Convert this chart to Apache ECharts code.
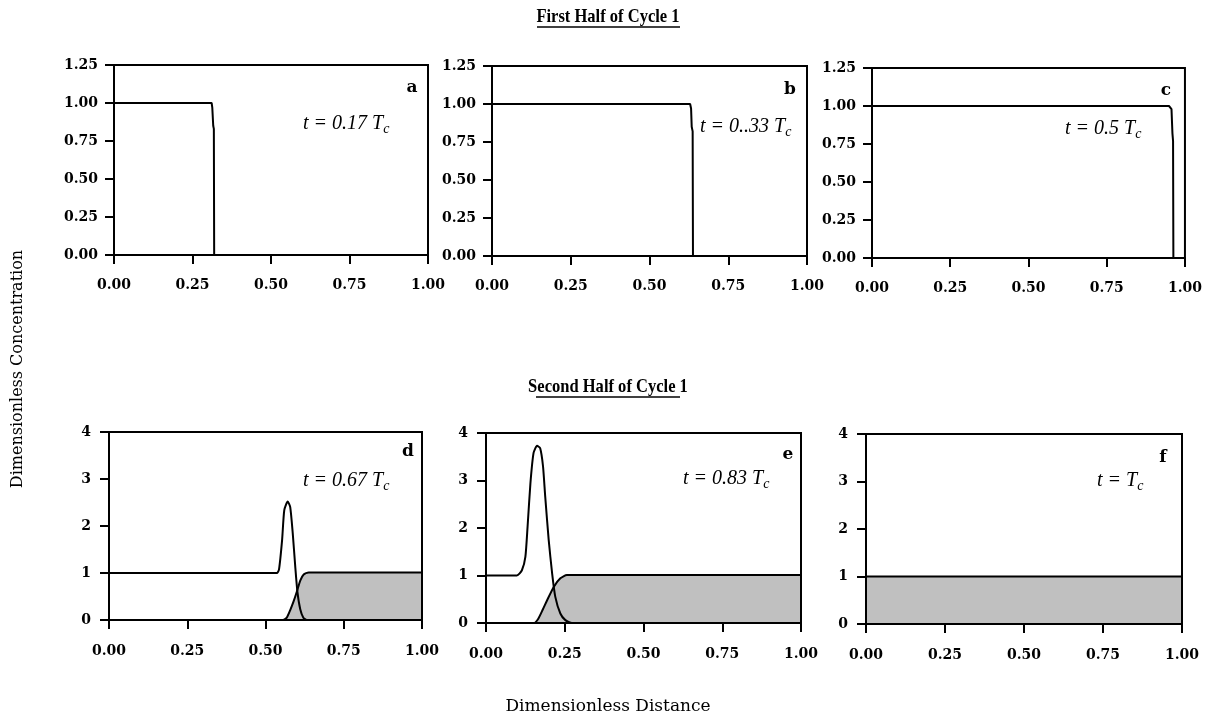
<!DOCTYPE html>
<html><head><meta charset="utf-8">
<script src="https://cdn.jsdelivr.net/npm/echarts@6/dist/echarts.min.js"></script>
<style>html,body{margin:0;padding:0;background:#fff}#c{width:1205px;height:719px}</style>
</head><body><div id="c"></div>
<script>
// ---- data (dimensionless distance, dimensionless concentration) ----
const panelA = [[0,1],[0.311,1],[0.313,0.97],[0.316,0.85],[0.318,0.83],[0.319,0],[1,0]];
const panelB = [[0,1],[0.629,1],[0.632,0.97],[0.634,0.85],[0.637,0.82],[0.638,0],[1,0]];
const panelC = [[0,1],[0.949,1],[0.957,0.98],[0.960,0.82],[0.962,0.77],[0.963,0],[1,0]];

const panelDFeed = [[0,1],[0.536,1],[0.543,1.07],[0.553,1.7],[0.560,2.34],[0.571,2.52],[0.579,2.4],[0.587,1.85],[0.595,1.14],[0.602,0.6],[0.611,0.23],[0.621,0.05],[0.632,0],[1,0]];
const panelDProd = [[0,0],[0.556,0],[0.568,0.05],[0.579,0.21],[0.590,0.40],[0.600,0.60],[0.611,0.84],[0.622,0.97],[0.638,1.01],[1,1.01]];

const panelEFeed = [[0,1],[0.098,1],[0.114,1.11],[0.125,1.39],[0.132,2.03],[0.141,2.94],[0.151,3.58],[0.162,3.73],[0.172,3.68],[0.181,3.30],[0.188,2.66],[0.199,1.75],[0.210,1.04],[0.220,0.55],[0.236,0.20],[0.252,0.06],[0.273,0],[1,0]];
const panelEProd = [[0,0],[0.152,0],[0.165,0.08],[0.180,0.28],[0.194,0.48],[0.215,0.76],[0.236,0.94],[0.257,1.01],[1,1.01]];

const panelFFeed = [[0,0],[1,0]];
const panelFProd = [[0,1],[1,1]];

const panelLetters = ['a','b','c','d','e','f'];
const panelTimes = ['0.17 ','0..33 ','0.5 ','0.67 ','0.83 ',''];
const topYMax = 1.25, topYStep = 0.25;
const botYMax = 4, botYStep = 1;

// ---- layout ----
const grids = [
  {left:114, top:65, width:314, height:190},
  {left:492, top:66, width:315, height:190},
  {left:872, top:68, width:314, height:190},
  {left:109, top:432, width:313, height:188},
  {left:486, top:433, width:315, height:190},
  {left:866, top:434, width:316, height:190}
];
const letterPos = [[412,88],[790,90],[1166,91],[408,452],[788,455],[1163,458]];
const timePos = [[303,125],[700,128],[1065,130],[303,482],[683,480],[1097,482]];

const lbl = {color:'#000', fontFamily:'DejaVu Serif', fontWeight:'bold', fontSize:14};
const xAxes = [], yAxes = [];
grids.forEach((g,i)=>{
  const top = i < 3;
  xAxes.push({type:'value', gridIndex:i, min:0, max:1, interval:0.25, z:10,
    axisLine:{show:true, onZero:false, lineStyle:{color:'#000', width:2}},
    axisTick:{show:true, length:9, lineStyle:{color:'#000', width:2}},
    axisLabel:Object.assign({margin:top?23:24, formatter:v=>v.toFixed(2)}, lbl),
    splitLine:{show:false}});
  yAxes.push({type:'value', gridIndex:i, min:0, max: top?topYMax:botYMax, interval: top?topYStep:botYStep, z:10,
    axisLine:{show:true, onZero:false, lineStyle:{color:'#000', width:2}},
    axisTick:{show:true, length:9, lineStyle:{color:'#000', width:2}},
    axisLabel:Object.assign({margin:top?16:18, formatter:v=> top? v.toFixed(2) : String(v)}, lbl),
    splitLine:{show:false}});
});

const lineStyle = {color:'#000', width:2};
const base = {type:'line', showSymbol:false, symbol:'none', animation:false, lineStyle};
const series = [];
[panelA, panelB, panelC].forEach((d,i)=>{
  series.push(Object.assign({xAxisIndex:i, yAxisIndex:i, data:d, z:5}, base));
});
[[panelDProd,panelDFeed],[panelEProd,panelEFeed],[panelFProd,panelFFeed]].forEach((pair,k)=>{
  const i = k+3;
  series.push(Object.assign({xAxisIndex:i, yAxisIndex:i, data:pair[0], z:3, smooth:0.2,
    areaStyle:{color:'#c0c0c0', opacity:1}}, base));
  series.push(Object.assign({xAxisIndex:i, yAxisIndex:i, data:pair[1], z:4, smooth:0.2}, base));
});

const titleFont = 'bold 19px "Liberation Serif"';
const graphic = [];
graphic.push({type:'text', x:608, y:17, scaleX:0.87, z:20, style:{text:'First Half of Cycle 1', fill:'#000', font:titleFont, textAlign:'center', textVerticalAlign:'middle'}});
graphic.push({type:'line', z:20, shape:{x1:537,y1:27,x2:680,y2:27}, style:{stroke:'#000', lineWidth:1.5}});
graphic.push({type:'text', x:608, y:387, scaleX:0.87, z:20, style:{text:'Second Half of Cycle 1', fill:'#000', font:titleFont, textAlign:'center', textVerticalAlign:'middle'}});
graphic.push({type:'line', z:20, shape:{x1:536,y1:397,x2:680,y2:397}, style:{stroke:'#000', lineWidth:1.5}});
graphic.push({type:'text', x:18, y:369, rotation:Math.PI/2, z:20, style:{text:'Dimensionless Concentration', fill:'#000', font:'16px "DejaVu Serif"', textAlign:'center', textVerticalAlign:'middle'}});
graphic.push({type:'text', x:608, y:707, z:20, style:{text:'Dimensionless Distance', fill:'#000', font:'17px "DejaVu Serif"', textAlign:'center', textVerticalAlign:'middle'}});
panelLetters.forEach((L,i)=>{
  graphic.push({type:'text', x:letterPos[i][0], y:letterPos[i][1], z:20, style:{text:L, fill:'#000', font:'bold 17px "DejaVu Serif"', textAlign:'center', textVerticalAlign:'middle'}});
  graphic.push({type:'text', x:timePos[i][0], y:timePos[i][1], z:20, style:{
    text:'{i|t = ' + panelTimes[i] + 'T}{s|c}', textAlign:'left', textVerticalAlign:'middle',
    rich:{i:{fontSize:20, fontStyle:'italic', fontFamily:'Liberation Serif', color:'#000', fill:'#000', verticalAlign:'top', lineHeight:23},
          s:{fontSize:14, fontStyle:'italic', fontFamily:'Liberation Serif', color:'#000', fill:'#000', verticalAlign:'bottom', lineHeight:23, padding:[9,0,0,0]}}}});
});

const chart = echarts.init(document.getElementById('c'), null, {renderer:'canvas'});
chart.setOption({
  backgroundColor:'#fff', animation:false,
  grid: grids.map(g=>Object.assign({show:true, borderColor:'#000', borderWidth:2, backgroundColor:'transparent', z:10, containLabel:false}, g)),
  xAxis:xAxes, yAxis:yAxes, series, graphic
});
</script></body></html>
